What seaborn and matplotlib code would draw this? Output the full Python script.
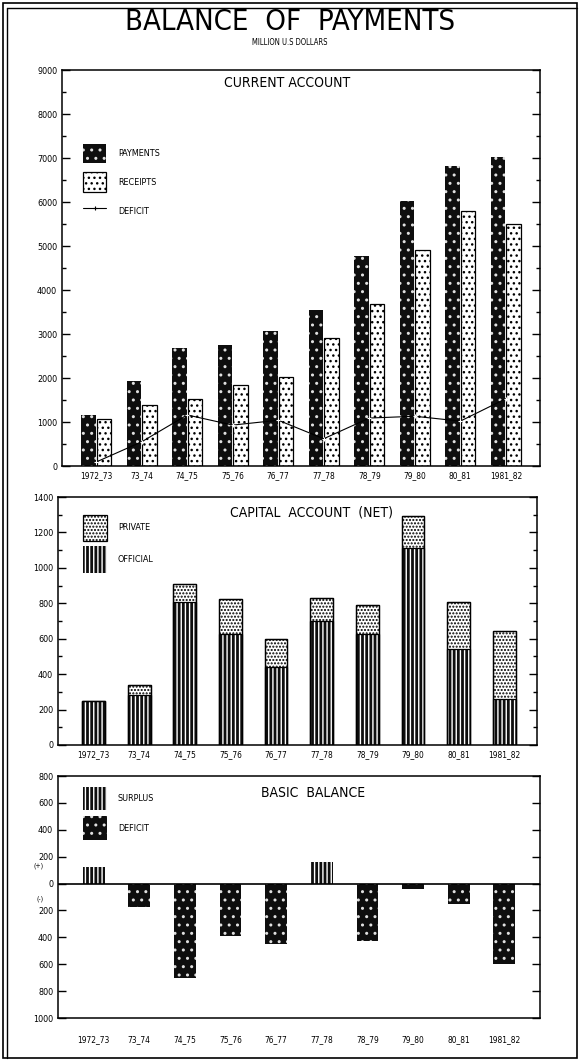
import numpy as np
import pandas as pd
import matplotlib
matplotlib.use('Agg')
import matplotlib.pyplot as plt
import seaborn as sns
from matplotlib.patches import Patch, Rectangle
from matplotlib.lines import Line2D
from matplotlib.ticker import MultipleLocator, FixedLocator

# 데이터
years = ['1972_73', '73_74', '74_75', '75_76', '76_77', '77_78', '78_79', '79_80', '80_81', '1981_82']

# current account
payments = [1150, 1930, 2680, 2760, 3070, 3540, 4770, 6030, 6820, 7030]
receipts = [1060, 1380, 1520, 1830, 2030, 2920, 3680, 4900, 5800, 5500]
deficit = [90, 550, 1160, 930, 1040, 620, 1090, 1130, 1020, 1530]

# capital account (net)
official = [250, 280, 805, 625, 440, 700, 625, 1110, 540, 262]
private = [0, 60, 105, 200, 158, 132, 168, 180, 268, 380]

# basic balance
basic = [120, -175, -700, -392, -447, 157, -430, -42, -150, -595]

sns.set_style('ticks')
plt.rcParams['font.family'] = ['DejaVu Sans']
plt.rcParams['font.stretch'] = 'condensed'
plt.rcParams['hatch.linewidth'] = 1.0
for k in ['text.color', 'axes.labelcolor', 'xtick.color', 'ytick.color', 'axes.edgecolor']:
    plt.rcParams[k] = 'black'

fig = plt.figure(figsize=(5.8, 10.63), dpi=100)
W, H = 580, 1063


def add_axes(left, top, right, bottom):
    return fig.add_axes([left / W, 1 - bottom / H, (right - left) / W, (bottom - top) / H])


ax1 = add_axes(62, 70, 540, 466)
ax2 = add_axes(58, 497, 537, 745)
ax3 = add_axes(58, 776, 540, 1018)


def style_patch(p, face, edge, hatch, lw):
    p.set_facecolor(face)
    p.set_edgecolor(edge)
    p.set_hatch(hatch)
    p.set_linewidth(lw)


DARK = ('#0e0e0e', '#e0e0e0', '..', 0)
LIGHT = ('white', 'black', '...', 0.9)
STRIPE = ('#0e0e0e', 'white', '||||', 0)
CHECK = ('white', 'black', '.....', 0.9)


def handle(style):
    return Patch(facecolor=style[0], edgecolor=style[1], hatch=style[2], lw=style[3])


FS = 6.5

# ---- current account ----
df_ca = pd.DataFrame({'year': years * 2,
                      'value': payments + receipts,
                      'kind': ['PAYMENTS'] * len(years) + ['RECEIPTS'] * len(years)})
sns.barplot(data=df_ca, x='year', y='value', hue='kind', order=years,
            palette=['#0e0e0e', 'white'], width=0.68, gap=0.08, saturation=1,
            legend=False, ax=ax1)
n = len(years)
for i, p in enumerate(ax1.patches):
    style_patch(p, *(DARK if i < n else LIGHT))

sns.lineplot(x=np.arange(n), y=deficit, ax=ax1, color='black', lw=0.8,
             marker='+', markersize=3, markeredgewidth=0.8)

ax1.set_ylim(0, 9000)
ax1.set_xlim(-0.75, n - 0.25)
ax1.yaxis.set_major_locator(MultipleLocator(1000))
ax1.yaxis.set_minor_locator(MultipleLocator(500))
ax1.text(0.47, 0.985, 'CURRENT ACCOUNT', transform=ax1.transAxes, ha='center', va='top', fontsize=10)
h1 = [handle(DARK), handle(LIGHT),
      Line2D([], [], color='black', lw=0.8, marker='+', markersize=3, markeredgewidth=0.8)]
ax1.legend(h1, ['PAYMENTS', 'RECEIPTS', 'DEFICIT'], loc='upper left', bbox_to_anchor=(0.044, 0.814),
           frameon=False, fontsize=FS, handlelength=2.55, handleheight=3.0, labelspacing=1.0,
           handletextpad=1.3, borderpad=0, borderaxespad=0)

# ---- capital account ----
total = [o + p for o, p in zip(official, private)]
sns.barplot(x=years, y=total, color='white', width=0.5, saturation=1, ax=ax2)
for p in ax2.patches:
    style_patch(p, *CHECK)
k = len(ax2.patches)
sns.barplot(x=years, y=official, color='#0e0e0e', width=0.5, saturation=1, ax=ax2)
for p in ax2.patches[k:]:
    style_patch(p, *STRIPE)
for p in ax2.patches:
    ax2.add_patch(Rectangle(p.get_xy(), p.get_width(), p.get_height(), fill=False,
                            edgecolor='black', lw=0.9))

ax2.set_ylim(0, 1400)
ax2.set_xlim(-0.78, n - 0.28)
ax2.yaxis.set_major_locator(MultipleLocator(200))
ax2.yaxis.set_minor_locator(MultipleLocator(100))
ax2.text(0.53, 0.965, 'CAPITAL  ACCOUNT  (NET)', transform=ax2.transAxes, ha='center', va='top', fontsize=10)
ax2.legend([handle(CHECK), handle(STRIPE)], ['PRIVATE', 'OFFICIAL'], loc='upper left',
           bbox_to_anchor=(0.052, 0.929), frameon=False, fontsize=FS, handlelength=2.66,
           handleheight=4.2, labelspacing=0.55, handletextpad=1.2, borderpad=0, borderaxespad=0)

# ---- basic balance ----
sns.barplot(x=years, y=basic, color='#0e0e0e', width=0.48, saturation=1, ax=ax3)
for p, v in zip(ax3.patches, basic):
    style_patch(p, *(STRIPE if v > 0 else DARK))
ax3.axhline(0, color='black', lw=1.2)
ax3.set_ylim(-1000, 800)
ax3.set_xlim(-0.78, n - 0.22)
ticks3 = [800, 600, 400, 200, 0, -200, -400, -600, -800, -1000]
ax3.yaxis.set_major_locator(FixedLocator(ticks3))
ax3.set_yticklabels([str(abs(t)) for t in ticks3])
ax3.text(-0.03, 135, '(+)', transform=ax3.get_yaxis_transform(), ha='right', va='center', fontsize=5)
ax3.text(-0.03, -110, '(-)', transform=ax3.get_yaxis_transform(), ha='right', va='center', fontsize=5)
ax3.text(0.53, 0.96, 'BASIC  BALANCE', transform=ax3.transAxes, ha='center', va='top', fontsize=10)
ax3.legend([handle(STRIPE), handle(DARK)], ['SURPLUS', 'DEFICIT'], loc='upper left',
           bbox_to_anchor=(0.052, 0.956), frameon=False, fontsize=FS, handlelength=2.66,
           handleheight=3.6, labelspacing=0.72, handletextpad=1.2, borderpad=0, borderaxespad=0)

for ax, pad in [(ax1, 4), (ax2, 4), (ax3, 12)]:
    ax.set_xlabel('')
    ax.set_ylabel('')
    for s in ax.spines.values():
        s.set_visible(True)
        s.set_linewidth(1.1)
        s.set_color('black')
    ax.tick_params(axis='y', which='both', direction='in', left=True, right=True,
                   labelsize=6.5, width=1)
    ax.tick_params(axis='y', which='major', length=6)
    ax.tick_params(axis='y', which='minor', length=3)
    ax.tick_params(axis='x', length=0, labelsize=6, pad=pad)

fig.text(0.5, 0.979, 'BALANCE  OF  PAYMENTS', ha='center', va='center', fontsize=21)
fig.text(0.5, 0.960, 'MILLION U.S DOLLARS', ha='center', va='center', fontsize=5.5)

# outer frame
fig.add_artist(Rectangle((3 / W, 1 - 1058 / H), 574 / W, 1055 / H, transform=fig.transFigure,
                         fill=False, edgecolor='black', lw=1.2))
fig.add_artist(Line2D([7 / W, 7 / W], [1 - 1058 / H, 1 - 8 / H], transform=fig.transFigure,
                      color='black', lw=1.0))
fig.add_artist(Line2D([7 / W, 577 / W], [1 - 8 / H, 1 - 8 / H], transform=fig.transFigure,
                      color='black', lw=1.0))

fig.savefig('out.png', dpi=100)
